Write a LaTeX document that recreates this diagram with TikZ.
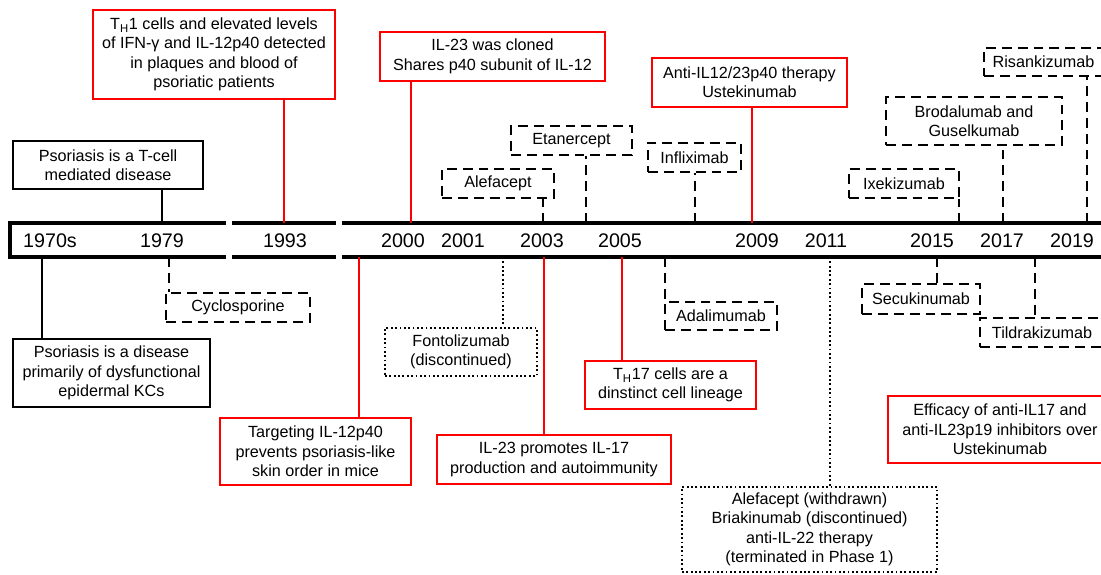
\documentclass[tikz,border=0pt]{standalone}
\usepackage{fontspec}
\setmainfont{Liberation Sans}
\usetikzlibrary{calc}
\definecolor{hilite}{HTML}{FF0000}
\newcommand\px{0.025cm}
\tikzset{box/.style={draw,align=center,inner sep=0pt,font=\fontsize{11.5}{13.8}\selectfont},
  sz/.style 2 args={minimum width=#1*\px,minimum height=#2*\px},
  blackbox/.style={box,line width=1.7pt},
  redbox/.style={box,draw=hilite,line width=1.7pt},
  dashbox/.style={box,line width=1.8pt,dash pattern=on 7pt off 4.3pt},
  dotbox/.style={box,line width=1.8pt,dash pattern=on 1.3pt off 1.8pt},
  blackwire/.style={line width=1.6pt},
  redwire/.style={line width=1.5pt,draw=hilite},
  dashwire/.style={line width=1.8pt,dash pattern=on 7pt off 4.3pt},
  dotwire/.style={line width=1.8pt,dash pattern=on 1.3pt off 1.8pt},
  bar/.style={line width=2.2pt},
  yearlab/.style={font=\fontsize{14}{16}\selectfont,inner sep=0pt}}

\begin{document}
\begin{tikzpicture}[x=0.025cm,y=-0.025cm]
\clip (0,0) rectangle (1101,574);
% timeline band
\draw[bar] (226,223)--(10,223)--(10,257)--(226,257);
\draw[bar] (232,223)--(336,223) (232,257)--(336,257);
\draw[bar] (342,223)--(1110,223) (342,257)--(1110,257);
\foreach \y/\x in {1970s/50,1979/162,1993/285,2000/403,2001/463,2003/542,
  2005/620,2009/757,2011/826,2015/932,2017/1002,2019/1072}
  \node[yearlab] (y\y) at (\x,241) {\y};
% tick points on the band
\foreach \n/\x in {tcell/162,th1/284,clone/411,alef/543,etan/586,infl/695,
  ustek/752,ixek/959,brod/1003,risan/1087}
  \coordinate (\n-t) at (\x,223);
\foreach \n/\x in {kcs/42,cyclo/169,target/359,fonto/503,promo/544,th17/622,
  adal/665,withd/830,secuk/937,tildr/1035}
  \coordinate (\n-t) at (\x,257);
% above the band
\node[blackbox,sz={190}{48}] (tcell) at (108,165) {Psoriasis is a T-cell\\mediated disease};
\node[redbox,sz={242}{89}] (th1) at (214,54.5) {T\textsubscript{H}1 cells and elevated levels\\of IFN-γ and IL-12p40 detected\\in plaques and blood of\\psoriatic patients};
\node[redbox,sz={225}{49}] (clone) at (492.5,56.5) {IL-23 was cloned\\Shares p40 subunit of IL-12};
\node[dashbox,sz={112}{29}] (alef) at (498,183.5) {Alefacept};
\node[dashbox,sz={121}{29}] (etan) at (571.5,140.5) {Etanercept};
\node[dashbox,sz={93}{29}] (infl) at (694.5,157.5) {Infliximab};
\node[redbox,sz={195}{49}] (ustek) at (749.5,82.5) {Anti-IL12/23p40 therapy\\Ustekinumab};
\node[dashbox,sz={110}{29}] (ixek) at (904,183.5) {Ixekizumab};
\node[dashbox,sz={176}{48}] (brod) at (974,121) {Brodalumab and\\Guselkumab};
\node[dashbox,sz={119}{28}] (risan) at (1043.5,62) {Risankizumab};
\draw[blackwire] (tcell-t) -- (tcell-t |- tcell.south);
\foreach \n in {th1,clone,ustek}
  \draw[redwire] (\n-t) -- (\n-t |- \n.south);
\foreach \n in {alef,etan,infl,ixek,brod,risan}
  \draw[dashwire] (\n-t) -- (\n-t |- \n.south);
% below the band
\node[blackbox,sz={197}{68}] (kcs) at (111.5,373) {Psoriasis is a disease\\primarily of dysfunctional\\epidermal KCs};
\node[dashbox,sz={144}{29}] (cyclo) at (238,307.5) {Cyclosporine};
\node[redbox,sz={191}{67}] (target) at (315.5,451.5) {Targeting IL-12p40\\prevents psoriasis-like\\skin order in mice};
\node[dotbox,sz={152}{48}] (fonto) at (461,352) {Fontolizumab\\(discontinued)};
\node[redbox,sz={234}{49}] (promo) at (554,459.5) {IL-23 promotes IL-17\\production and autoimmunity};
\node[redbox,sz={171}{48}] (th17) at (670.5,385) {T\textsubscript{H}17 cells are a\\dinstinct cell lineage};
\node[dashbox,sz={112}{28}] (adal) at (721,316) {Adalimumab};
\node[dotbox,sz={255}{85}] (withd) at (809.5,529.5) {Alefacept (withdrawn)\\Briakinumab (discontinued)\\anti-IL-22 therapy\\(terminated in Phase 1)};
\node[dashbox,sz={118}{30}] (secuk) at (921,299) {Secukinumab};
\node[dashbox,sz={124}{29}] (tildr) at (1042,332.5) {Tildrakizumab};
\node[redbox,sz={224}{67}] (effic) at (1000,429.5) {Efficacy of anti-IL17 and\\anti-IL23p19 inhibitors over\\Ustekinumab};
\draw[blackwire] (kcs-t) -- (kcs-t |- kcs.north);
\foreach \n in {target,promo,th17}
  \draw[redwire] (\n-t) -- (\n-t |- \n.north);
\foreach \n in {cyclo,adal,secuk,tildr}
  \draw[dashwire] (\n-t) -- (\n-t |- \n.north);
\foreach \n in {fonto,withd}
  \draw[dotwire] (\n-t) -- (\n-t |- \n.north);
\end{tikzpicture}
\end{document}
